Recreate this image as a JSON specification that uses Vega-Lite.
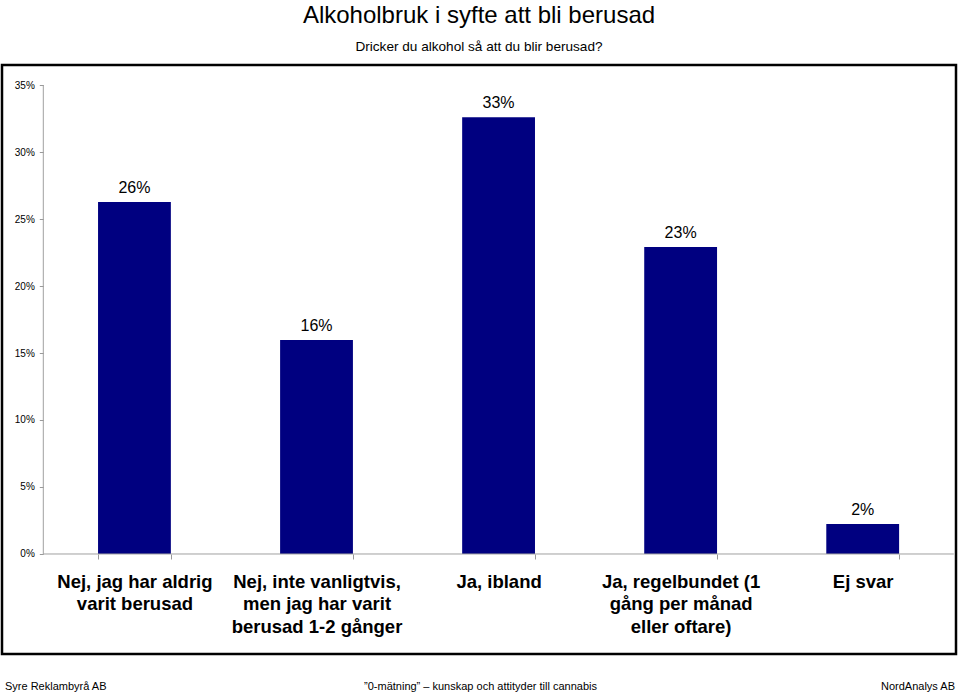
{
  "$schema": "https://vega.github.io/schema/vega-lite/v6.json",
  "width": 954,
  "height": 589,
  "autosize": {"type": "none"},
  "padding": {"left": 2, "top": 65, "right": 4, "bottom": 40},
  "background": "#ffffff",
  "title": {
    "text": "Alkoholbruk i syfte att bli berusad",
    "subtitle": "Dricker du alkohol så att du blir berusad?",
    "font": "Liberation Sans",
    "fontSize": 24,
    "fontWeight": "normal",
    "color": "#000000",
    "subtitleFont": "Liberation Sans",
    "subtitleFontSize": 13.6,
    "subtitleColor": "#000000",
    "anchor": "middle",
    "offset": 11,
    "subtitlePadding": 12
  },
  "config": {
    "view": {"stroke": "#000000", "strokeWidth": 2.5},
    "font": "Liberation Sans"
  },
  "resolve": {"scale": {"x": "independent"}},
  "layer": [
    {
      "data": {
        "values": [
          {"kategori": "Nej, jag har aldrig\nvarit berusad", "andel": 0.2627},
          {"kategori": "Nej, inte vanligtvis,\nmen jag har varit\nberusad 1-2 gånger", "andel": 0.1597},
          {"kategori": "Ja, ibland", "andel": 0.3259},
          {"kategori": "Ja, regelbundet (1\ngång per månad\neller oftare)", "andel": 0.2291},
          {"kategori": "Ej svar", "andel": 0.0224}
        ]
      },
      "encoding": {
        "x": {
          "field": "kategori",
          "type": "nominal",
          "sort": null,
          "scale": {"paddingInner": 0.6, "paddingOuter": 0.42, "align": 0.628},
          "axis": {
            "orient": "bottom",
            "offset": -100,
            "title": null,
            "domain": false,
            "ticks": true,
            "tickBand": "extent",
            "tickSize": 5,
            "tickColor": "#999999",
            "labelAngle": 0,
            "labelFont": "Liberation Sans",
            "labelFontSize": 18.5,
            "labelFontWeight": "bold",
            "labelColor": "#000000",
            "labelLineHeight": 22.5,
            "labelPadding": 13,
            "labelLimit": 0,
            "labelExpr": "split(datum.label, '\\n')"
          }
        },
        "y": {
          "field": "andel",
          "type": "quantitative",
          "scale": {"domain": [-0.07463, 0.36493], "nice": false, "zero": false},
          "axis": {
            "title": null,
            "values": [0, 0.05, 0.1, 0.15, 0.2, 0.25, 0.3, 0.35],
            "format": ".0%",
            "offset": -41.3,
            "domain": false,
            "grid": false,
            "tickSize": 4,
            "tickColor": "#999999",
            "labelFont": "Liberation Sans",
            "labelFontSize": 10,
            "labelColor": "#000000",
            "labelPadding": 5
          }
        }
      },
      "layer": [
        {"mark": {"type": "bar", "color": "#000080"}},
        {
          "mark": {"type": "text", "dy": -9, "baseline": "alphabetic", "fontSize": 16, "color": "#000000", "font": "Liberation Sans"},
          "encoding": {"text": {"field": "andel", "type": "quantitative", "format": ".0%"}}
        }
      ]
    },
    {
      "data": {"values": [{}]},
      "layer": [
        {
          "mark": {"type": "rule", "color": "#a0a0a0", "strokeWidth": 1},
          "encoding": {
            "x": {"datum": 0, "type": "quantitative", "scale": {"domain": [-0.2268, 5.0121], "nice": false, "zero": false}, "axis": null},
            "x2": {"datum": 5},
            "y": {"datum": 0, "type": "quantitative"}
          }
        },
        {
          "mark": {"type": "rule", "color": "#a0a0a0", "strokeWidth": 1},
          "encoding": {
            "x": {"datum": 0, "type": "quantitative", "axis": null},
            "y": {"datum": 0, "type": "quantitative"},
            "y2": {"datum": 0.35}
          }
        },
        {
          "mark": {"type": "text", "align": "left", "baseline": "alphabetic", "fontSize": 11, "font": "Liberation Sans", "color": "#000000", "clip": false, "text": "Syre Reklambyrå AB"},
          "encoding": {
            "x": {"datum": -0.2103, "type": "quantitative", "axis": null},
            "y": {"datum": -0.1015, "type": "quantitative"}
          }
        },
        {
          "mark": {"type": "text", "align": "center", "baseline": "alphabetic", "fontSize": 11, "font": "Liberation Sans", "color": "#000000", "clip": false, "text": "”0-mätning” – kunskap och attityder till cannabis"},
          "encoding": {
            "x": {"datum": 2.4009, "type": "quantitative", "axis": null},
            "y": {"datum": -0.1015, "type": "quantitative"}
          }
        },
        {
          "mark": {"type": "text", "align": "right", "baseline": "alphabetic", "fontSize": 11, "font": "Liberation Sans", "color": "#000000", "clip": false, "text": "NordAnalys AB"},
          "encoding": {
            "x": {"datum": 5.0066, "type": "quantitative", "axis": null},
            "y": {"datum": -0.1015, "type": "quantitative"}
          }
        }
      ]
    }
  ]
}
